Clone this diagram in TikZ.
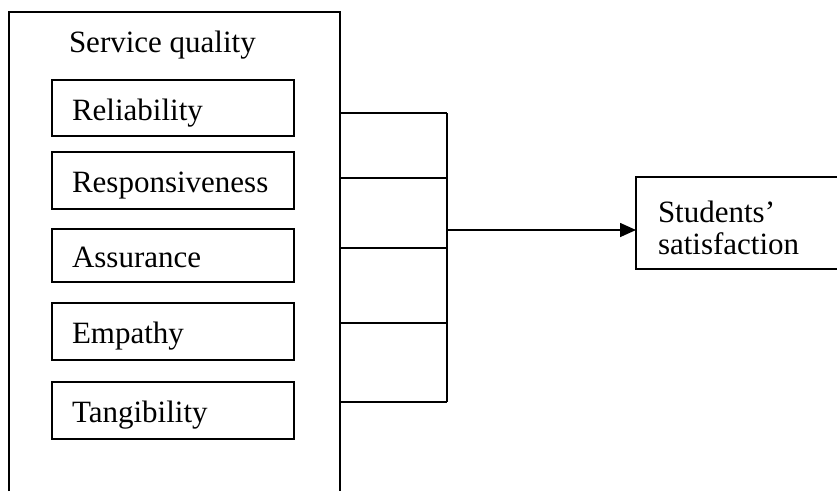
\documentclass[tikz,border=0pt]{standalone}
\usepackage{fontspec}
\setmainfont{Liberation Serif}
\usetikzlibrary{arrows.meta}
\begin{document}
\begin{tikzpicture}[x=1pt,y=-1pt, line width=1.6pt,
  every node/.style={font=\fontsize{31}{32}\selectfont, outer sep=0pt},
  itembox/.style={draw, rectangle, anchor=north west, minimum width=242pt,
    text width=202pt, inner xsep=20pt, inner ysep=0pt, align=left,
    text height=26pt, text depth=2pt},
  plain/.style={anchor=base west, inner sep=0pt, align=left}]
\useasboundingbox (0,0) rectangle (837,491);
% outer frame (open at the bottom: it runs past the picture edge)
\node[anchor=north west, minimum width=331pt, minimum height=479pt, inner sep=0pt] (sq) at (9,12) {};
\draw (sq.south west) -- (sq.north west) -- (sq.north east) -- (sq.south east);
\node[plain] (sqt) at (69,52) {Service quality};
% dimensions
\node[itembox, minimum height=56pt] (rel) at (52,80) {Reliability};
\node[itembox, minimum height=57pt] (resp) at (52,152) {Responsiveness};
\node[itembox, minimum height=53pt] (assu) at (52,229) {Assurance};
\node[itembox, minimum height=57pt] (emp) at (52,303) {Empathy};
\node[itembox, minimum height=57pt] (tang) at (52,382) {Tangibility};
% outcome (open at the right: it runs past the picture edge)
\node[anchor=north west, minimum width=201pt, minimum height=92pt, inner sep=0pt] (sat) at (636,177) {};
\draw (sat.north east) -- (sat.north west) -- (sat.south west) -- (sat.south east);
\node[plain] (satt) at (658,254) {Students’\\satisfaction};
% bus
\coordinate (b1) at (447,113);
\coordinate (b2) at (447,178);
\coordinate (b3) at (447,248);
\coordinate (b4) at (447,323);
\coordinate (b5) at (447,402);
\coordinate (bm) at (447,230);
\foreach \b in {b1,b2,b3,b4,b5}{\draw (sq.east |- \b) -- (\b);}
\draw (b1) -- (b5);
\draw[-{Triangle[length=16pt,width=14pt]}] (bm) -- (bm -| sat.west);
\end{tikzpicture}
\end{document}
